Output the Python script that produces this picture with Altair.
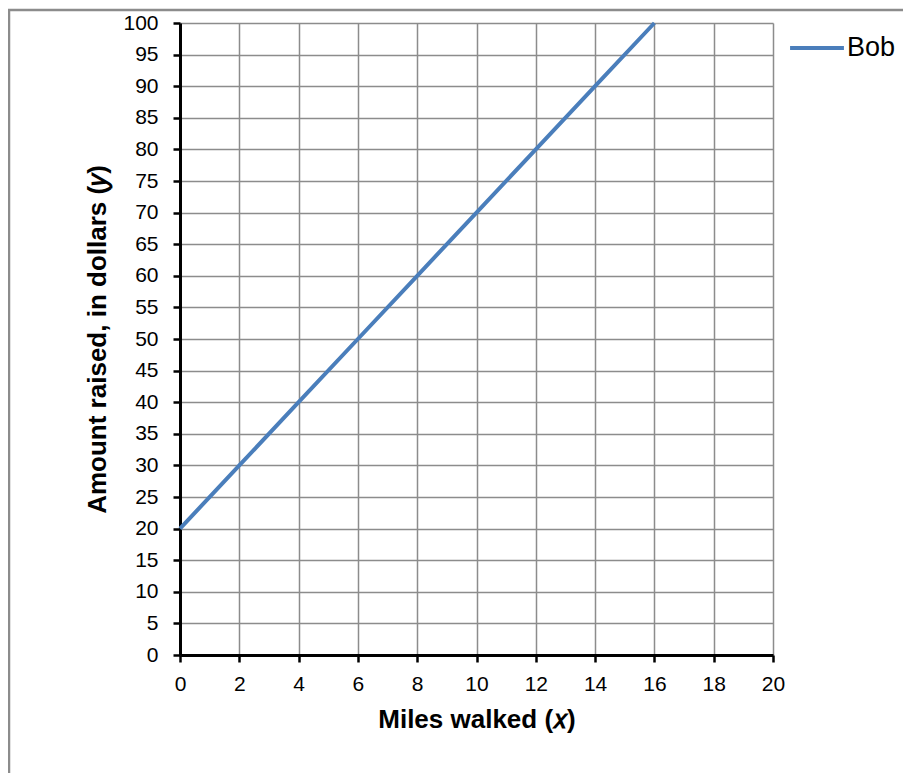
import altair as alt
import pandas as pd

miles = [0, 2, 4, 6, 8, 10, 12, 14, 16]
amount = [20, 30, 40, 50, 60, 70, 80, 90, 100]
series = ["Bob"] * len(miles)
x_ticks = list(range(0, 21, 2))
y_ticks = list(range(0, 101, 5))

df = pd.DataFrame({"miles": miles, "amount": amount, "series": series})

FONT = "Liberation Sans"

frame = alt.Chart(pd.DataFrame({"a": [0]})).mark_rect(
    fillOpacity=0, stroke="#8c8c8c", strokeWidth=2.5, clip=False
).encode(
    x=alt.value(-171), x2=alt.value(900), y=alt.value(-13), y2=alt.value(900)
)

line = alt.Chart(df).mark_line(strokeWidth=4, clip=False).encode(
    x=alt.X("miles:Q", scale=alt.Scale(domain=[0, 20], nice=False),
            axis=alt.Axis(values=x_ticks, title="Miles walked (\U0001D465)", titlePadding=12,
                          labelPadding=11)),
    y=alt.Y("amount:Q", scale=alt.Scale(domain=[0, 100], nice=False),
            axis=alt.Axis(values=y_ticks, title="Amount raised, in dollars (\U0001D466)",
                          titlePadding=12, labelPadding=15)),
    color=alt.Color("series:N", scale=alt.Scale(range=["#4A7EBB"]),
                    legend=alt.Legend(title=None, orient="none", legendX=608, legendY=-4,
                                      symbolType="stroke", symbolSize=2900,
                                      symbolStrokeWidth=4, labelFontSize=27,
                                      labelFont=FONT, labelColor="black", labelOffset=1)),
)

chart = alt.layer(frame, line).properties(
    width=593, height=632,
    background="white",
    autosize=alt.AutoSizeParams(type="none"),
    padding={"left": 172, "top": 15, "right": 130, "bottom": 118},
).configure_view(stroke=None).configure_axis(
    labelFont=FONT, labelFontSize=21, labelColor="black",
    titleFont=FONT, titleFontSize=26, titleFontWeight="bold", titleColor="black",
    domainColor="black", domainWidth=3, tickColor="black", tickWidth=2.5, tickSize=7,
    gridColor="#8c8c8c", gridWidth=1.5, gridOpacity=1, labelFlush=False, labelOverlap=False,
)

chart.save("out.html", embed_options={"renderer": "svg", "actions": False})
